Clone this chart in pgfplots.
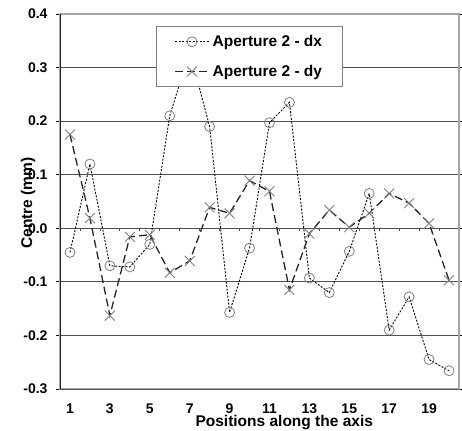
\documentclass[border=0pt]{standalone}
\usepackage{fontspec}
\setmainfont{Liberation Sans}
\usepackage{pgfplots}
\usepackage{pgfplotstable}
\pgfplotsset{compat=1.18}
\definecolor{gridc}{HTML}{505050}
\definecolor{framec}{HTML}{A6A6A6}
\definecolor{markc}{HTML}{7F7F7F}

% centre offsets per position (mm)
\pgfplotstableread{
pos dx dy
1 -0.045 0.175
2 0.120 0.019
3 -0.070 -0.163
4 -0.072 -0.016
5 -0.030 -0.012
6 0.210 -0.083
7 0.330 -0.061
8 0.190 0.039
9 -0.157 0.028
10 -0.037 0.089
11 0.197 0.069
12 0.235 -0.115
13 -0.093 -0.010
14 -0.120 0.034
15 -0.043 0.002
16 0.065 0.028
17 -0.190 0.065
18 -0.128 0.047
19 -0.245 0.009
20 -0.266 -0.097
}\centretab

\begin{document}
\begin{tikzpicture}
\begin{axis}[
  scale only axis,
  width=399pt, height=375pt,
  xmin=0.5, xmax=20.5,
  ymin=-0.3, ymax=0.4,
  xtick={1,3,...,19},
  ytick={-0.3,-0.2,-0.1,0,0.1,0.2,0.3,0.4},
  yticklabel={\pgfmathprintnumber[fixed,fixed zerofill,precision=1]{\tick}},
  /pgf/number format/assume math mode=true,
  tick label style={font=\bfseries\fontsize{14}{16}\selectfont},
  xtick style={draw=none},
  ytick style={draw=black, line width=0.8pt},
  tick align=outside,
  major tick length=4pt,
  x tick label style={anchor=base, yshift=-20pt},
  y tick label style={anchor=east, xshift=-5pt},
  ymajorgrids,
  grid style={draw=gridc, line width=0.8pt},
  axis line style={draw=framec, line width=1.6pt},
  label style={font=\bfseries\fontsize{15.5}{18}\selectfont},
  xlabel={Positions along the axis},
  xlabel style={at={(axis description cs:0.562,-0.101)}, anchor=base},
  ylabel={Centre (mm)},
  ylabel style={at={(axis description cs:-0.08,0.496)}, anchor=center},
  legend style={
    at={(axis description cs:0.2406,0.968)}, anchor=north west,
    font=\bfseries\fontsize{15.5}{18}\selectfont,
    draw=gray, line width=0.8pt, fill=white,
    inner xsep=18pt, inner ysep=7pt,
    row sep=13pt,
    /tikz/every odd column/.append style={column sep=1pt},
  },
  legend cell align=left,
  legend image code/.code={
    \draw[mark repeat=2,mark phase=2,#1] plot coordinates {(0pt,0pt) (17pt,0pt) (34pt,0pt)};
  },
  clip=false,
]
\draw[black!85, line width=0.9pt] (rel axis cs:0,0) -- (rel axis cs:0,1);
\draw[gridc, line width=0.8pt] (rel axis cs:0,0) -- (rel axis cs:1,0);
\pgfplotsinvokeforeach{1.5,2.5,...,19.5}{
  \draw[gridc, line width=0.8pt] (axis cs:#1,0) -- ([yshift=-3pt]axis cs:#1,0);
}
\addplot[black, line width=0.9pt, dash pattern=on 2pt off 1.5pt,
  mark=o, mark size=5pt,
  mark options={solid, draw=markc, line width=0.8pt}]
  table[x=pos, y=dx] {\centretab};
\addlegendentry{Aperture 2 - dx}
\addplot[black!85, line width=1.3pt, dash pattern=on 8pt off 4pt,
  mark=x, mark size=7pt,
  mark options={solid, draw=markc, line width=0.9pt}]
  table[x=pos, y=dy] {\centretab};
\addlegendentry{Aperture 2 - dy}
\coordinate (ll) at (rel axis cs:0,0);
\coordinate (ur) at (rel axis cs:1,1);
\end{axis}
\pgfresetboundingbox
\path ([shift={(-60pt,-41pt)}]ll) rectangle ([shift={(3pt,14pt)}]ur);
\end{tikzpicture}
\end{document}
